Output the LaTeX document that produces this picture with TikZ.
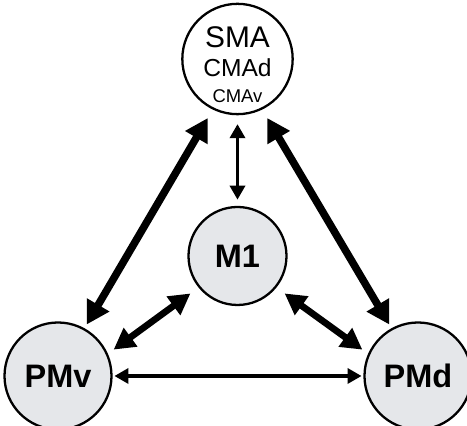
\documentclass[tikz,border=0pt]{standalone}
\usepackage{fontspec}
\setmainfont{Liberation Sans}
\usetikzlibrary{arrows.meta}
\definecolor{areagray}{RGB}{229,231,234}
\begin{document}
\begin{tikzpicture}[line join=round,
	area/.style={circle,draw,line width=1.3pt,fill=areagray,inner sep=0pt,minimum size=2.14cm,align=center,font=\bfseries\fontsize{18.5}{20}\selectfont},
	thick link/.style={line width=4.3pt,{Triangle[length=13pt,width=14pt]}-{Triangle[length=13pt,width=14pt]}},
	mid link/.style={line width=3.8pt,{Triangle[length=12pt,width=12.5pt]}-{Triangle[length=12pt,width=12.5pt]}},
	thin link/.style={line width=2pt,{Triangle[length=8pt,width=8.5pt]}-{Triangle[length=8pt,width=8.5pt]}}]
	\useasboundingbox (0,0) rectangle (9.34,8.52);
	\node[area,fill=white,minimum size=2.12cm,font=\fontsize{17}{17}\selectfont] (SMA) at (4.75,7.34)
		{\rule{0pt}{18pt}SMA\\[-0.2pt]{\fontsize{14}{14}\selectfont CMAd}\\[-2.6pt]{\fontsize{10.5}{10.5}\selectfont CMAv}};
	\node[area,minimum size=1.96cm] (M1) at (4.75,3.40) {M1};
	\node[area] (PMv) at (1.16,1.00) {PMv};
	\node[area] (PMd) at (8.36,1.00) {PMd};
	\draw[thick link,shorten <=5.5pt,shorten >=2.4pt] (SMA.244) -- (PMv.61);
	\draw[thick link,shorten <=5.5pt,shorten >=2.4pt] (SMA.296) -- (PMd.119);
	\draw[mid link,shorten <=5.7pt,shorten >=4pt] (M1.219) -- (PMv.24);
	\draw[mid link,shorten <=5.7pt,shorten >=4pt] (M1.321) -- (PMd.156);
	\draw[thin link,shorten <=5pt,shorten >=3.5pt] (SMA) -- (M1);
	\draw[thin link,shorten <=1pt,shorten >=1pt] (PMv) -- (PMd);
\end{tikzpicture}
\end{document}
